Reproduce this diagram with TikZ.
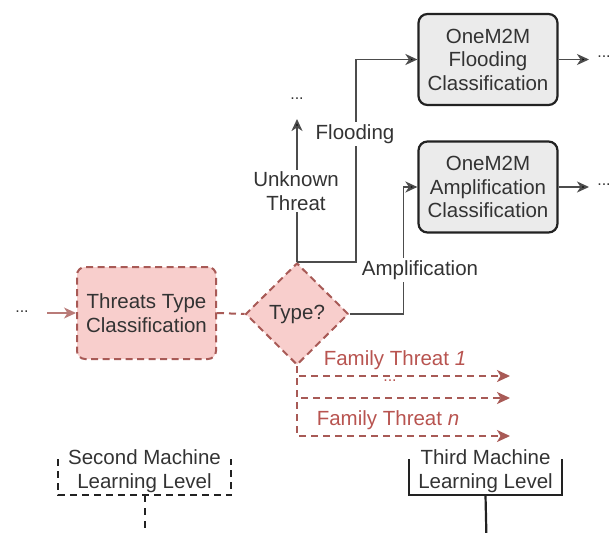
\documentclass[tikz,border=0pt]{standalone}
\usepackage{fontspec}
\setmainfont{Liberation Sans}
\usetikzlibrary{shapes.geometric,arrows.meta,calc}
\definecolor{redline}{HTML}{A85A56}
\definecolor{redfill}{HTML}{F8CECC}
\definecolor{grayfill}{HTML}{EBEBEB}
\definecolor{darkline}{HTML}{222222}
\definecolor{txt}{HTML}{333333}
\definecolor{redtxt}{HTML}{B85450}
\begin{document}
\begin{tikzpicture}[x=1pt,y=-1pt,
  every node/.style={font=\fontsize{20.5}{23.5}\selectfont, text=txt, align=center, inner sep=1pt},
  redbox/.style={draw=redline, fill=redfill, rounded corners=8pt, line width=2pt, dash pattern=on 7pt off 4.5pt, minimum width=139pt, minimum height=92pt},
  graybox/.style={draw=darkline, fill=grayfill, rounded corners=9pt, line width=2.2pt, minimum width=139pt, minimum height=91pt},
  decision/.style={diamond, aspect=1, draw=redline, fill=redfill, line width=2pt, dash pattern=on 7pt off 4.5pt, minimum width=103pt, minimum height=102pt, inner sep=0pt},
  conn/.style={draw=black!70, line width=1.8pt},
  arr/.style={conn, -{Stealth[length=12pt,width=11pt,inset=3.5pt,fill=black]}},
  redarr/.style={draw=redline, line width=1.8pt, dash pattern=on 7pt off 5pt, -{Stealth[length=13pt,width=12pt,inset=3.5pt]}},
  redln/.style={draw=redline, line width=1.8pt, dash pattern=on 7pt off 5pt},
  lbl/.style={fill=white, inner sep=2pt},
  dots/.style={font=\fontsize{16}{18}\selectfont},
  redlbl/.style={text=redtxt},
  levelbox/.style={minimum width=#1, minimum height=48pt, inner sep=0pt},
]
\useasboundingbox (0,0) rectangle (612,532);

% main nodes
\node[dots] (dl) at (22,312) {...};
\coordinate (a0) at (47,313);
\node[redbox] (ttc) at (146.5,313) {Threats Type\\Classification};
\node[decision] (dia) at (297,314) {Type?};
\node[graybox] (fl) at (488,59.5) {OneM2M\\Flooding\\Classification};
\node[graybox] (am) at (488,187) {OneM2M\\Amplification\\Classification};

% left input
\draw[draw=redline!80, line width=1.4pt, -{Stealth[length=12pt,width=11pt,inset=3.5pt]}] (a0) -- (ttc.west);
\draw[redln, line width=2pt] (ttc.east) -- (dia.west);

% unknown threat
\coordinate (uk) at (297,119);
\node[dots] (ukd) at (297,99) {...};
\draw[arr] (dia.north) -- (uk);
\node[lbl] (ukl) at (296,191) {Unknown\\Threat};

% flooding
\draw[arr] (dia.north) -- ++(59,0) |- (fl.west);
\node[lbl] (fll) at (355,134) {Flooding};

% amplification
\draw[arr] (dia.east) -- ++(54,0) |- (am.west);
\node[lbl] (aml) at (420,270) {Amplification};

% outputs
\coordinate (fo) at (589,59.5);
\coordinate (ao) at (589,187);
\draw[arr] (fl.east) -- (fo);
\draw[arr] (am.east) -- (ao);
\node[dots] (fod) at (604,57) {...};
\node[dots] (aod) at (604,185) {...};

% family threats
\coordinate (t1) at (510,376);
\coordinate (t2) at (510,398);
\coordinate (t3) at (510,436);
\draw[redarr] (dia.south) |- (t1);
\draw[redarr] (dia.south) |- (t2);
\draw[redarr] (dia.south) |- (t3);
\node[redlbl] (f1) at (395,360) {Family Threat \textit{1}};
\node[redlbl,dots] (f2) at (390,381) {...};
\node[redlbl] (f3) at (388,420) {Family Threat \textit{n}};

% levels
\node[levelbox=173pt] (sm) at (144.5,471) {Second Machine\\Learning Level};
\node[levelbox=153pt] (tm) at (485.5,471) {Third Machine\\Learning Level};
\draw[draw=darkline, line width=2pt, dash pattern=on 7pt off 5pt]
  ($(sm.south west)+(0,-36)$) -- (sm.south west) -- (sm.south east) -- ($(sm.south east)+(0,-36)$);
\draw[draw=darkline, line width=2pt]
  ($(tm.south west)+(0,-36)$) -- (tm.south west) -- (tm.south east) -- ($(tm.south east)+(0,-36)$);
\coordinate (sb) at (144.5,540);
\coordinate (tb) at (486.5,540);
\draw[draw=darkline, line width=2pt, dash pattern=on 7pt off 6pt] (sm.south) -- (sb);
\draw[draw=darkline, line width=2.2pt] (tm.south) -- (tb);
\end{tikzpicture}
\end{document}
